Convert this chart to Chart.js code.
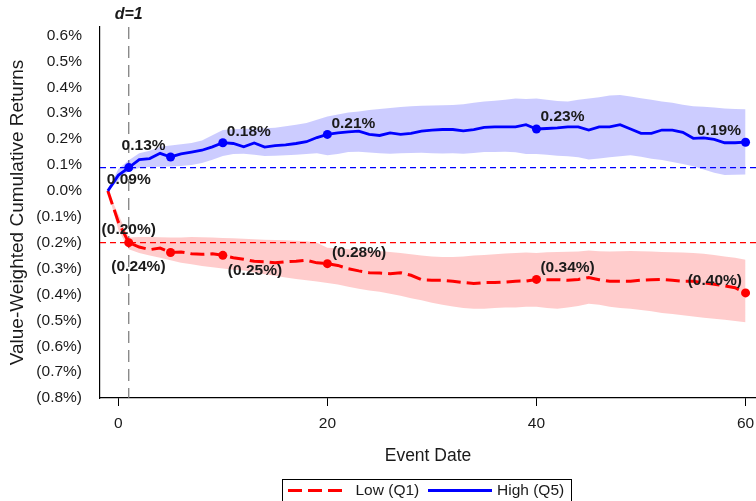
<!DOCTYPE html>
<html><head><meta charset="utf-8">
<script src="https://cdn.jsdelivr.net/npm/chart.js@4.4.1/dist/chart.umd.min.js"></script>
<style>html,body{margin:0;padding:0;background:#fff}#wrap{width:756px;height:501px;position:relative}</style>
</head><body><div id="wrap"><canvas id="c" width="756" height="501"></canvas></div>
<script>
// ---- data (values in %) ----
const days = [-1,0,1,2,3,4,5,6,7,8,9,10,11,12,13,14,15,16,17,18,19,20,21,22,23,24,25,26,27,28,29,30,31,32,33,34,35,36,37,38,39,40,41,42,43,44,45,46,47,48,49,50,51,52,53,54,55,56,57,58,59,60];
const highMean = [0,0.06,0.09,0.121,0.125,0.145,0.131,0.143,0.150,0.157,0.170,0.186,0.183,0.170,0.185,0.169,0.175,0.178,0.183,0.190,0.206,0.218,0.224,0.228,0.231,0.218,0.214,0.224,0.218,0.222,0.231,0.235,0.237,0.237,0.232,0.237,0.245,0.247,0.247,0.247,0.256,0.239,0.241,0.243,0.247,0.247,0.235,0.247,0.247,0.256,0.239,0.222,0.222,0.235,0.235,0.226,0.203,0.205,0.199,0.186,0.186,0.188];
const highUpper = [0,0.085,0.118,0.145,0.155,0.170,0.175,0.180,0.185,0.195,0.215,0.235,0.238,0.240,0.240,0.242,0.244,0.250,0.255,0.262,0.275,0.287,0.295,0.303,0.307,0.312,0.316,0.320,0.324,0.327,0.329,0.330,0.331,0.332,0.335,0.340,0.345,0.348,0.352,0.357,0.355,0.357,0.352,0.347,0.345,0.352,0.357,0.362,0.368,0.370,0.365,0.358,0.352,0.345,0.340,0.333,0.327,0.325,0.322,0.318,0.316,0.315];
const highLower = [0,0.04,0.077,0.088,0.092,0.093,0.094,0.096,0.100,0.108,0.120,0.135,0.142,0.143,0.140,0.135,0.136,0.138,0.140,0.142,0.145,0.138,0.142,0.150,0.151,0.148,0.145,0.143,0.145,0.146,0.147,0.145,0.144,0.145,0.143,0.146,0.150,0.150,0.151,0.149,0.142,0.142,0.140,0.136,0.134,0.130,0.121,0.125,0.130,0.134,0.138,0.132,0.124,0.119,0.112,0.104,0.095,0.083,0.070,0.061,0.062,0.063];
const lowMean = [0,-0.12,-0.200,-0.217,-0.227,-0.221,-0.238,-0.236,-0.243,-0.245,-0.243,-0.249,-0.258,-0.264,-0.272,-0.274,-0.278,-0.274,-0.272,-0.268,-0.278,-0.281,-0.288,-0.301,-0.309,-0.316,-0.317,-0.320,-0.316,-0.326,-0.343,-0.345,-0.345,-0.349,-0.354,-0.358,-0.354,-0.354,-0.352,-0.349,-0.348,-0.342,-0.343,-0.343,-0.345,-0.342,-0.335,-0.343,-0.349,-0.349,-0.349,-0.345,-0.343,-0.342,-0.345,-0.349,-0.349,-0.355,-0.361,-0.367,-0.374,-0.394];
const lowUpper = [0,-0.09,-0.180,-0.178,-0.178,-0.179,-0.180,-0.180,-0.178,-0.179,-0.180,-0.182,-0.183,-0.185,-0.187,-0.189,-0.190,-0.191,-0.193,-0.195,-0.200,-0.220,-0.222,-0.225,-0.228,-0.230,-0.232,-0.236,-0.240,-0.245,-0.250,-0.253,-0.255,-0.255,-0.253,-0.250,-0.248,-0.245,-0.242,-0.240,-0.238,-0.240,-0.237,-0.236,-0.235,-0.234,-0.230,-0.233,-0.234,-0.233,-0.232,-0.233,-0.234,-0.236,-0.237,-0.238,-0.240,-0.243,-0.248,-0.253,-0.258,-0.266];
const lowLower = [0,-0.15,-0.225,-0.240,-0.250,-0.258,-0.268,-0.278,-0.283,-0.290,-0.295,-0.300,-0.305,-0.308,-0.315,-0.322,-0.328,-0.335,-0.340,-0.345,-0.350,-0.356,-0.362,-0.370,-0.378,-0.385,-0.390,-0.397,-0.405,-0.415,-0.422,-0.432,-0.440,-0.447,-0.452,-0.455,-0.455,-0.452,-0.450,-0.450,-0.448,-0.448,-0.452,-0.455,-0.450,-0.445,-0.436,-0.440,-0.448,-0.452,-0.455,-0.460,-0.465,-0.472,-0.476,-0.480,-0.485,-0.490,-0.494,-0.498,-0.503,-0.507];
const markerDays = [1,5,10,20,40,60];
const highLabels = ['0.09%','0.13%','0.18%','0.21%','0.23%','0.19%'];
const lowLabels = ['(0.20%)','(0.24%)','(0.25%)','(0.28%)','(0.34%)','(0.40%)'];
const seriesNames = ['Low (Q1)','High (Q5)'];
const xTicks = [0,20,40,60];
const yTicks = [-0.8,-0.7,-0.6,-0.5,-0.4,-0.3,-0.2,-0.1,0,0.1,0.2,0.3,0.4,0.5,0.6];
const yTickLabels = ['(0.8%)','(0.7%)','(0.6%)','(0.5%)','(0.4%)','(0.3%)','(0.2%)','(0.1%)','0.0%','0.1%','0.2%','0.3%','0.4%','0.5%','0.6%'];
const eventDay = 1;
const eventLabel = 'd=1';
const xTitle = 'Event Date';
const yTitle = 'Value-Weighted Cumulative Returns';

// ---- styling ----
const BLUE = '#0000ff', RED = '#ff0000', TXT = '#1a1a1a';
const FONT = "'Liberation Sans', Arial, sans-serif";
const pts = arr => days.map((d, i) => ({x: d, y: arr[i]}));
const markerRadius = ctx => markerDays.includes(days[ctx.dataIndex]) ? 4.5 : 0;
const RED_DASH = [14, 6];
const PLOT_RIGHT = 756;

const highPlace = [[0,12,'center'],[-5,-11,'right'],[4,-11,'left'],[4,-11,'left'],[4,-12,'left'],[-4.6,-11,'right']];
const lowPlace  = [[0,-13,'center'],[-5,14,'right'],[5,15,'left'],[4.5,-11,'left'],[4,-11.5,'left'],[-3.6,-12,'right']];

const overlay = {
  id: 'overlay',
  afterLayout(chart) {
    const x = chart.scales.x;
    x.right = PLOT_RIGHT;
    x.width = x.right - x.left;
    x.configure();
    chart.chartArea.right = PLOT_RIGHT;
    chart.chartArea.width = PLOT_RIGHT - chart.chartArea.left;
  },
  beforeDatasetsDraw(chart) {
    const {ctx, chartArea: a, scales: {x, y}} = chart;
    const i1 = days.indexOf(eventDay);
    ctx.save();
    ctx.lineWidth = 1.2;
    ctx.setLineDash([6, 4]);
    ctx.strokeStyle = BLUE;
    let yy = y.getPixelForValue(highMean[i1]);
    ctx.beginPath(); ctx.moveTo(a.left, yy); ctx.lineTo(a.right, yy); ctx.stroke();
    ctx.strokeStyle = RED;
    yy = y.getPixelForValue(lowMean[i1]);
    ctx.beginPath(); ctx.moveTo(a.left, yy); ctx.lineTo(a.right, yy); ctx.stroke();
    ctx.strokeStyle = '#777';
    ctx.setLineDash([12, 7]);
    const xx = x.getPixelForValue(eventDay);
    ctx.beginPath(); ctx.moveTo(xx, a.top); ctx.lineTo(xx, a.bottom); ctx.stroke();
    ctx.restore();
  },
  afterDatasetsDraw(chart) {
    const {ctx} = chart;
    ctx.save();
    ctx.font = "bold 15.5px " + FONT;
    ctx.fillStyle = TXT;
    ctx.textBaseline = 'middle';
    const draw = (dsIndex, labels, place) => {
      const meta = chart.getDatasetMeta(dsIndex);
      markerDays.forEach((d, k) => {
        const el = meta.data[days.indexOf(d)];
        const [dx, dy, al] = place[k];
        ctx.textAlign = al;
        ctx.fillText(labels[k], el.x + dx, el.y + dy);
      });
    };
    draw(0, highLabels, highPlace);
    draw(1, lowLabels, lowPlace);
    ctx.restore();
  },
  afterDraw(chart) {
    const {ctx, scales: {x}} = chart;
    ctx.save();
    ctx.font = "italic bold 16px " + FONT;
    ctx.fillStyle = TXT;
    ctx.textAlign = 'center';
    ctx.textBaseline = 'middle';
    ctx.fillText(eventLabel, x.getPixelForValue(eventDay), 15);
    ctx.setLineDash([]);
    ctx.lineWidth = 1;
    ctx.strokeStyle = '#000';
    ctx.strokeRect(282.5, 479.5, 289, 30);
    const ly = 490.5;
    ctx.lineWidth = 3;
    ctx.strokeStyle = RED;
    ctx.setLineDash(RED_DASH);
    ctx.beginPath(); ctx.moveTo(288, ly); ctx.lineTo(348, ly); ctx.stroke();
    ctx.setLineDash([]);
    ctx.strokeStyle = BLUE;
    ctx.beginPath(); ctx.moveTo(428, ly); ctx.lineTo(492, ly); ctx.stroke();
    ctx.font = "15.5px " + FONT;
    ctx.textAlign = 'left';
    ctx.fillStyle = TXT;
    ctx.fillText(seriesNames[0], 355.5, ly);
    ctx.fillText(seriesNames[1], 497, ly);
    ctx.restore();
  }
};

new Chart(document.getElementById('c'), {
  type: 'line',
  data: {
    datasets: [
      {label: seriesNames[1], data: pts(highMean), borderColor: BLUE, borderWidth: 2.8, backgroundColor: BLUE,
       pointRadius: markerRadius, pointBackgroundColor: BLUE, pointBorderWidth: 0, pointHoverRadius: markerRadius, fill: false, tension: 0},
      {label: seriesNames[0], data: pts(lowMean), borderColor: RED, borderWidth: 3, borderDash: RED_DASH, backgroundColor: RED,
       pointRadius: markerRadius, pointBackgroundColor: RED, pointBorderWidth: 0, pointHoverRadius: markerRadius, fill: false, tension: 0},
      {label: 'hu', data: pts(highUpper), borderWidth: 0, pointRadius: 0, fill: '+1', backgroundColor: 'rgba(0,0,255,0.2)', borderColor: 'rgba(0,0,0,0)'},
      {label: 'hl', data: pts(highLower), borderWidth: 0, pointRadius: 0, fill: false, borderColor: 'rgba(0,0,0,0)'},
      {label: 'lu', data: pts(lowUpper), borderWidth: 0, pointRadius: 0, fill: '+1', backgroundColor: 'rgba(255,0,0,0.2)', borderColor: 'rgba(0,0,0,0)'},
      {label: 'll', data: pts(lowLower), borderWidth: 0, pointRadius: 0, fill: false, borderColor: 'rgba(0,0,0,0)'}
    ]
  },
  options: {
    responsive: false,
    animation: false,
    devicePixelRatio: 1,
    layout: {padding: {top: 27, left: 0, right: 0, bottom: 0}},
    plugins: {legend: {display: false}, tooltip: {enabled: false}},
    scales: {
      x: {
        type: 'linear', min: -1.75, max: 61,
        afterBuildTicks: s => { s.ticks = xTicks.map(v => ({value: v})); },
        afterFit: s => { s.height = 103; s.paddingLeft = 0; s.paddingRight = 0; },
        ticks: {font: {family: FONT, size: 15.5}, color: TXT, padding: 8, maxRotation: 0, callback: v => String(v)},
        grid: {display: true, drawOnChartArea: false, drawTicks: true, tickLength: 8, color: '#000', lineWidth: 1},
        border: {display: true, color: '#000', width: 1.2},
        title: {display: true, text: xTitle, font: {family: FONT, size: 17.5}, color: TXT, padding: {top: 0, bottom: 34}}
      },
      y: {
        type: 'linear', min: -0.8, max: 0.633,
        afterBuildTicks: s => { s.ticks = yTicks.map(v => ({value: v})); },
        afterFit: s => { s.width = 100; s.paddingTop = 0; s.paddingBottom = 0; },
        ticks: {font: {family: FONT, size: 15.5}, color: TXT, padding: 10, callback: (v, i) => yTickLabels[i]},
        grid: {display: false},
        border: {display: true, color: '#000', width: 1.2},
        title: {display: true, text: yTitle, font: {family: FONT, size: 19}, color: TXT, padding: {top: 6.5, bottom: 0}}
      }
    }
  },
  plugins: [overlay]
});
</script>
</body></html>
